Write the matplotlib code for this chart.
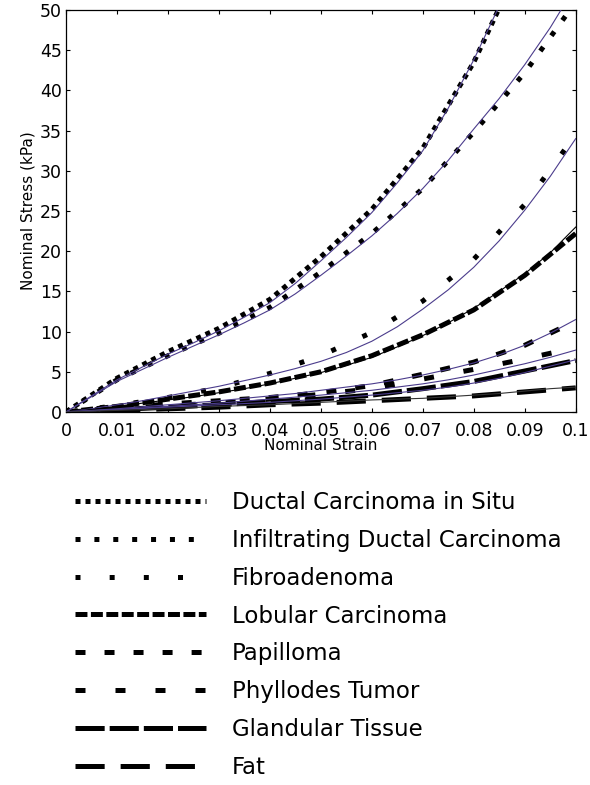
import numpy as np
import matplotlib
matplotlib.use('Agg')
import matplotlib.pyplot as plt

plt.rcParams['font.family'] = ['DejaVu Sans']
plt.rcParams['lines.scale_dashes'] = False

strain = [0.0, 0.01, 0.02, 0.03, 0.04, 0.05, 0.06, 0.07, 0.08, 0.09, 0.1]
fit_strain = [0.0, 0.005, 0.01, 0.015, 0.02, 0.025, 0.03, 0.035, 0.04, 0.045, 0.05,
              0.055, 0.06, 0.065, 0.07, 0.075, 0.08, 0.085, 0.09, 0.095, 0.1]
x_ticklabels = ['0', '0.01', '0.02', '0.03', '0.04', '0.05', '0.06', '0.07', '0.08', '0.09', '0.1']
y_ticks = [0, 5, 10, 15, 20, 25, 30, 35, 40, 45, 50]

names = ['Ductal Carcinoma in Situ', 'Infiltrating Ductal Carcinoma', 'Fibroadenoma',
         'Lobular Carcinoma', 'Papilloma', 'Phyllodes Tumor', 'Glandular Tissue', 'Fat']

# measured stress (kPa)
dcis = [0, 4.2, 7.5, 10.4, 14.0, 19.3, 25.2, 32.8, 43.5, 57.0, 70.0]
idc = [0, 4.0, 7.0, 9.8, 13.0, 17.4, 22.2, 27.8, 34.8, 42.2, 51.0]
fibro = [0, 0.8, 1.8, 3.0, 4.8, 7.0, 9.9, 13.8, 19.0, 25.8, 34.5]
lobular = [0, 0.7, 1.6, 2.5, 3.6, 5.0, 7.0, 9.6, 12.7, 17.0, 22.2]
papilloma = [0, 0.5, 1.0, 1.4, 1.8, 2.4, 3.3, 4.7, 6.2, 8.3, 11.3]
phyllodes = [0, 0.4, 0.8, 1.1, 1.6, 2.2, 2.9, 4.1, 5.3, 6.6, 8.0]
glandular = [0, 0.3, 0.6, 0.9, 1.3, 1.6, 2.1, 2.9, 3.8, 5.1, 6.4]
fat = [0, 0.2, 0.4, 0.6, 0.9, 1.1, 1.4, 1.7, 2.0, 2.5, 3.0]

# fitted curves (on fit_strain)
dcis_fit = [0, 2.0, 4.0, 5.6, 7.2, 8.6, 10.1, 11.8, 13.6, 16.0, 18.8,
            21.7, 24.8, 28.5, 32.5, 37.8, 43.8, 50.5, 58.0, 65.0, 72.0]
idc_fit = [0, 1.9, 3.8, 5.3, 6.8, 8.2, 9.6, 11.1, 12.7, 14.7, 17.0,
           19.4, 21.9, 24.7, 27.8, 31.3, 35.2, 39.0, 43.2, 47.8, 53.0]
fibro_fit = [0, 0.4, 0.9, 1.4, 2.0, 2.6, 3.2, 3.9, 4.6, 5.4, 6.3,
             7.4, 8.8, 10.6, 12.8, 15.2, 18.0, 21.3, 25.1, 29.3, 34.0]
lobular_fit = [0, 0.3, 0.7, 1.1, 1.5, 1.9, 2.4, 2.9, 3.5, 4.2, 4.9,
               5.8, 6.8, 8.1, 9.5, 11.1, 12.9, 15.0, 17.2, 19.8, 23.0]
papilloma_fit = [0, 0.2, 0.4, 0.65, 0.9, 1.15, 1.4, 1.7, 2.0, 2.3, 2.7,
                 3.1, 3.5, 4.0, 4.6, 5.3, 6.1, 7.1, 8.3, 9.8, 11.5]
phyllodes_fit = [0, 0.15, 0.3, 0.5, 0.7, 0.9, 1.1, 1.35, 1.6, 1.85, 2.1,
                 2.4, 2.7, 3.1, 3.5, 4.0, 4.6, 5.3, 6.0, 6.8, 7.7]
glandular_fit = [0, 0.15, 0.3, 0.45, 0.6, 0.75, 0.9, 1.05, 1.2, 1.4, 1.6,
                 1.85, 2.1, 2.4, 2.7, 3.1, 3.6, 4.2, 4.9, 5.7, 6.5]
fat_fit = [0, 0.1, 0.2, 0.3, 0.4, 0.55, 0.7, 0.8, 0.9, 1.05, 1.2,
           1.35, 1.5, 1.6, 1.7, 1.9, 2.1, 2.3, 2.6, 2.9, 3.1]

data = [dcis, idc, fibro, lobular, papilloma, phyllodes, glandular, fat]
fits = [dcis_fit, idc_fit, fibro_fit, lobular_fit, papilloma_fit, phyllodes_fit, glandular_fit, fat_fit]
fit_colors = ['#4b3c8c', '#4b3c8c', '#4b3c8c', 'black', '#4b3c8c', '#4b3c8c', '#4b3c8c', '#333333']
dashes = [(0, (3.6, 3.6)), (0, (3.6, 10)), (0, (3.6, 21)), (0, (8.6, 2.5)),
          (0, (7.2, 13.7)), (0, (7.2, 21.6)), (0, (21, 3.6)), (0, (21, 11.5))]

fig = plt.figure(figsize=(5.9, 7.85), dpi=100)
ax = fig.add_axes([66 / 590, 1 - 412 / 785, (575.7 - 66) / 590, (412 - 10) / 785])

handles = []
for vals, ls in zip(data, dashes):
    h, = ax.plot(strain, vals, color='black', lw=3.6, linestyle=ls, dash_capstyle='butt', zorder=2)
    handles.append(h)
for vals, c in zip(fits, fit_colors):
    ax.plot(fit_strain, vals, color=c, lw=0.8, zorder=3)

ax.set_xlim(0, 0.1)
ax.set_ylim(0, 50)
ax.set_xticks(strain)
ax.set_xticklabels(x_ticklabels)
ax.set_yticks(y_ticks)
ax.tick_params(direction='in', length=3, width=0.8, top=True, right=True, labelsize=12.5)
ax.tick_params(axis='x', pad=7)
ax.tick_params(axis='y', pad=3)
for s in ax.spines.values():
    s.set_linewidth(0.9)
ax.set_xlabel('Nominal Strain', fontsize=11, labelpad=-1)
ax.set_ylabel('Nominal Stress (kPa)', fontsize=11, labelpad=3)

fig.legend(handles, names, loc='upper left', bbox_to_anchor=(66 / 590, 1 - 482 / 785),
           frameon=False, fontsize=16.5, handlelength=5.7, handletextpad=1.15,
           labelspacing=0.645, borderaxespad=0)

fig.savefig('out.png', dpi=100)
